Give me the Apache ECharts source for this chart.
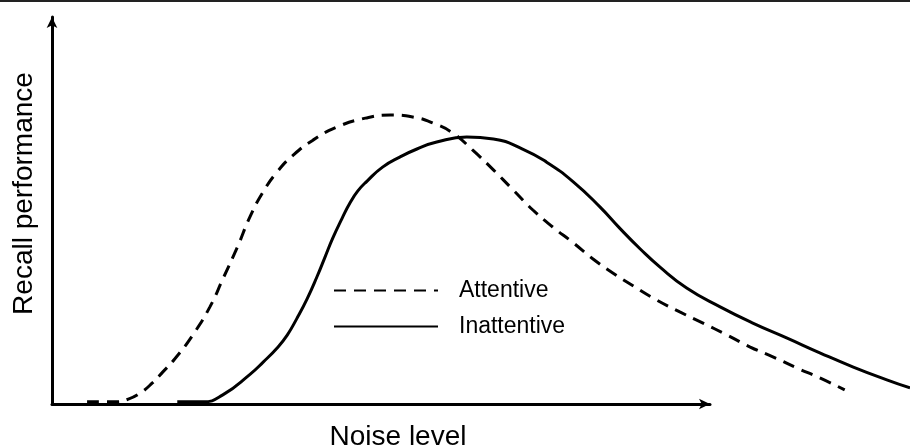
<!DOCTYPE html>
<html>
<head>
<meta charset="utf-8">
<script src="https://cdn.jsdelivr.net/npm/echarts@6/dist/echarts.min.js"></script>
<style>html,body{margin:0;padding:0;background:#fff;}#c{width:910px;height:448px;}</style>
</head>
<body>
<div id="c"></div>
<script>
// Noise level (0-100, arbitrary units) vs recall performance (0-100, arbitrary units)
const attentiveX = [4.2, 7.5, 9.0, 10.4, 11.8, 13.0, 14.4, 16.5, 18.5, 20.0, 21.7, 23.2, 24.7, 26.3, 28.2, 30.5, 33.3, 36.6, 39.5, 42.1, 44.5, 46.8, 49.1, 51.5, 53.8, 56.1, 58.4, 60.8, 63.1, 65.4, 67.8, 70.5, 73.2, 75.9, 78.7, 81.4, 84.1, 86.8, 89.5, 92.4];
const attentiveY = [0.3, 0.3, 1.0, 2.6, 5.2, 8.0, 11.4, 17.6, 24.9, 32.1, 40.4, 48.4, 54.7, 59.8, 64.2, 68.1, 71.5, 73.8, 74.6, 74.1, 72.5, 69.9, 65.5, 60.4, 55.2, 50.0, 45.6, 41.5, 37.3, 33.7, 30.3, 26.7, 23.6, 20.7, 17.6, 14.5, 11.9, 9.1, 6.5, 3.4];
const inattentiveX = [14.7, 17.7, 20.0, 23.2, 24.7, 26.3, 27.5, 28.6, 29.8, 31.0, 31.9, 32.8, 33.9, 34.8, 35.7, 36.8, 38.6, 40.6, 42.6, 44.9, 48.4, 51.5, 54.9, 57.7, 60.8, 63.9, 66.2, 68.6, 70.9, 74.0, 77.9, 81.7, 85.7, 89.5, 93.4, 97.3, 100];
const inattentiveY = [0.3, 0.3, 2.1, 7.5, 10.6, 14.2, 17.6, 21.8, 26.9, 32.9, 37.8, 42.7, 47.9, 51.8, 54.9, 57.5, 61.1, 63.7, 65.8, 67.6, 68.9, 68.4, 65.8, 62.4, 57.3, 50.8, 45.3, 39.9, 35.2, 29.8, 24.9, 20.7, 16.8, 13.0, 9.3, 6.0, 3.9];
const seriesNames = ['Attentive', 'Inattentive'];
const xTitle = 'Noise level';
const yTitle = 'Recall performance';

const zip = (xs, ys) => xs.map((x, i) => [x, ys[i]]);
const FONT = '"Liberation Sans", Arial, sans-serif';

const chart = echarts.init(document.getElementById('c'), null, {renderer: 'canvas'});
chart.setOption({
  animation: false,
  backgroundColor: '#fff',
  graphic: [{type: 'rect', left: 0, top: 0, shape: {width: 910, height: 2}, style: {fill: '#222'}, silent: true}],
  grid: [
    {left: 51, right: 0, top: 17, bottom: 45, outerBoundsMode: 'none', containLabel: false},
    {left: 52, width: 658, top: 17, bottom: 44, outerBoundsMode: 'none', containLabel: false}
  ],
  xAxis: [
    {gridIndex: 0, type: 'value', min: 0, max: 100, show: false},
    {gridIndex: 1, type: 'value', min: 0, max: 100,
      axisLine: {show: true, symbol: ['none', 'arrow'], symbolSize: [8, 11], lineStyle: {color: '#000', width: 3}},
      axisTick: {show: false}, axisLabel: {show: false}, splitLine: {show: false},
      name: xTitle, nameLocation: 'middle', nameGap: 19,
      nameTextStyle: {fontFamily: FONT, fontSize: 28, color: '#000', padding: [0, 0, 0, 34]}}
  ],
  yAxis: [
    {gridIndex: 0, type: 'value', min: 0, max: 100, show: false},
    {gridIndex: 1, type: 'value', min: 0, max: 100,
      axisLine: {show: true, symbol: ['none', 'arrow'], symbolSize: [8, 11], lineStyle: {color: '#000', width: 3}},
      axisTick: {show: false}, axisLabel: {show: false}, splitLine: {show: false},
      name: yTitle, nameLocation: 'middle', nameGap: 14,
      nameTextStyle: {fontFamily: FONT, fontSize: 28, color: '#000', padding: [0, 0, 0, 34]}}
  ],
  legend: {
    orient: 'vertical', left: 333, top: 279, padding: 0,
    itemWidth: 104, itemHeight: 14, itemGap: 13,
    itemStyle: {opacity: 0},
    textStyle: {fontFamily: FONT, fontSize: 23, color: '#000', lineHeight: 23, padding: [0, 0, 0, 16]},
    data: seriesNames
  },
  series: [
    {name: seriesNames[0], type: 'line', xAxisIndex: 0, yAxisIndex: 0, data: zip(attentiveX, attentiveY),
      smooth: 0.5, symbol: 'none', lineStyle: {color: '#000', width: 3, type: [12, 8]}, itemStyle: {color: '#000'}},
    {name: seriesNames[1], type: 'line', xAxisIndex: 0, yAxisIndex: 0, data: zip(inattentiveX, inattentiveY),
      smooth: 0.5, symbol: 'none', lineStyle: {color: '#000', width: 3}, itemStyle: {color: '#000'}}
  ]
});
</script>
</body>
</html>
